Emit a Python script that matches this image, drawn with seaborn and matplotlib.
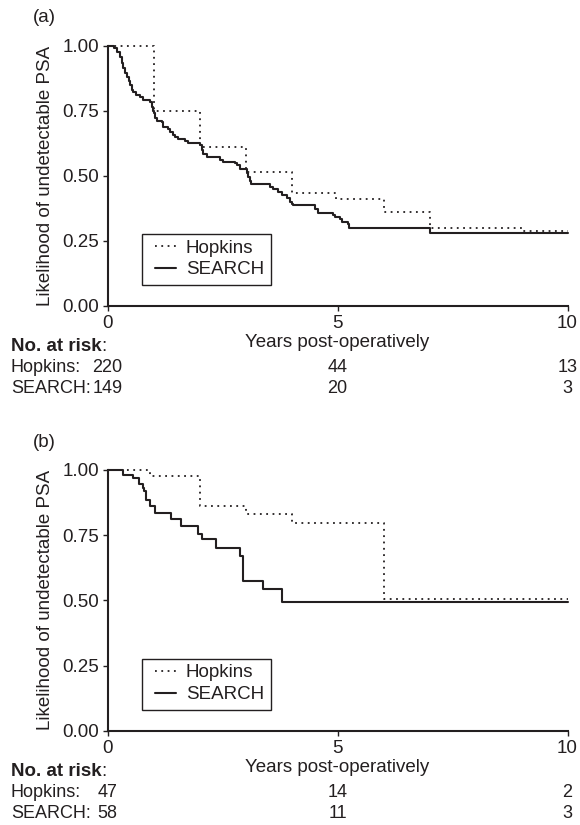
import matplotlib
matplotlib.use("Agg")
import matplotlib.pyplot as plt
import matplotlib.transforms as mtransforms
from matplotlib.patches import Rectangle
import pandas as pd
import seaborn as sns

# ---- Kaplan-Meier step data: event times (years) and survival after each step ----
hopkins_a_t = [0, 1.0, 2.0, 3.0, 4.0, 4.97, 6.0, 7.0, 9.0, 10]
hopkins_a_s = [1.0, 0.75, 0.61, 0.515, 0.435, 0.41, 0.36, 0.30, 0.287, 0.287]

search_a_t = [0, 0.14, 0.20, 0.27, 0.31, 0.34, 0.38, 0.42, 0.46, 0.49, 0.53, 0.56,
              0.63, 0.71, 0.78, 0.92, 0.96, 0.98, 1.0, 1.03, 1.07, 1.18, 1.21,
              1.32, 1.36, 1.42, 1.47, 1.54, 1.68, 1.76, 2.01, 2.05, 2.08, 2.16,
              2.45, 2.52, 2.77, 2.82, 2.88, 3.03, 3.06, 3.10, 3.13, 3.53, 3.60,
              3.71, 3.79, 3.90, 3.96, 4.0, 4.04, 4.51, 4.58, 4.91, 4.95, 5.05,
              5.09, 5.23, 5.26, 7.01, 10]
search_a_s = [1.0, 0.99, 0.975, 0.955, 0.935, 0.915, 0.895, 0.88, 0.865, 0.85, 0.83,
              0.822, 0.81, 0.803, 0.79, 0.782, 0.765, 0.75, 0.74, 0.722, 0.712,
              0.705, 0.688, 0.68, 0.668, 0.658, 0.65, 0.643, 0.635, 0.624, 0.618,
              0.60, 0.585, 0.57, 0.562, 0.553, 0.549, 0.54, 0.525, 0.51, 0.495,
              0.48, 0.467, 0.458, 0.448, 0.438, 0.426, 0.413, 0.40, 0.393, 0.386,
              0.372, 0.356, 0.348, 0.34, 0.334, 0.322, 0.315, 0.30, 0.278, 0.278]

hopkins_b_t = [0, 0.92, 2.0, 3.0, 4.0, 6.0, 10]
hopkins_b_s = [1.0, 0.978, 0.862, 0.833, 0.797, 0.505, 0.505]

search_b_t = [0, 0.33, 0.56, 0.69, 0.77, 0.80, 0.84, 0.92, 1.03, 1.38, 1.60, 1.96,
              2.06, 2.36, 2.87, 2.95, 3.37, 3.79, 10]
search_b_s = [1.0, 0.981, 0.968, 0.945, 0.93, 0.92, 0.885, 0.863, 0.834, 0.811,
              0.785, 0.755, 0.734, 0.70, 0.67, 0.575, 0.542, 0.495, 0.495]

# ---- numbers at risk ----
risk_years = [0, 5, 10]
hopkins_a_risk = [220, 44, 13]
search_a_risk = [149, 20, 3]
hopkins_b_risk = [47, 14, 2]
search_b_risk = [58, 11, 3]

y_ticks = [0.0, 0.25, 0.50, 0.75, 1.00]
x_ticks = [0, 5, 10]

INK = "#231f20"
FS = 13.5
FS_TABLE = 13

sns.set_style("ticks")
plt.rcParams["font.family"] = ["Liberation Sans", "DejaVu Sans"]
plt.rcParams.update({
    "text.color": INK, "axes.labelcolor": INK, "xtick.color": INK,
    "ytick.color": INK, "axes.edgecolor": INK,
})

W, H = 580, 825
fig = plt.figure(figsize=(W / 100, H / 100), dpi=100)


def px_axes(left, top, right, bottom):
    return fig.add_axes([left / W, 1 - bottom / H, (right - left) / W, (bottom - top) / H])


legends = []


def draw_panel(ax, h_t, h_s, s_t, s_s, tag, risk_h, risk_s, axis_bottom_px):
    dh = pd.DataFrame({"t": h_t, "s": h_s})
    ds = pd.DataFrame({"t": s_t, "s": s_s})
    sns.lineplot(data=dh, x="t", y="s", ax=ax, drawstyle="steps-post", estimator=None,
                 color=INK, lw=1.3, linestyle=(0, (1, 2.5)), label="Hopkins", clip_on=False)
    sns.lineplot(data=ds, x="t", y="s", ax=ax, drawstyle="steps-post", estimator=None,
                 color=INK, lw=1.5, label="SEARCH", clip_on=False)
    ax.set_xlim(0, 10)
    ax.set_ylim(0, 1)
    ax.set_xticks(x_ticks)
    ax.set_yticks(y_ticks)
    ax.set_yticklabels([f"{v:.2f}" for v in y_ticks])
    ax.tick_params(direction="out", length=3.6, width=1.0, labelsize=FS, pad=2.5)
    ax.tick_params(axis="x", pad=3.0)
    for sp in ("left", "bottom"):
        ax.spines[sp].set_linewidth(1.5)
    sns.despine(ax=ax)
    ax.set_ylabel("Likelihood of undetectable PSA", fontsize=FS, labelpad=6)
    ax.set_xlabel("Years post-operatively", fontsize=FS, labelpad=1.5)

    # legend contents; its frame is drawn afterwards with asymmetric padding
    leg = ax.legend(loc="upper left", bbox_to_anchor=(0.103, 0.255), borderaxespad=0,
                    borderpad=0, frameon=False, fontsize=FS, handlelength=1.15,
                    handletextpad=0.5, labelspacing=0.25)
    legends.append(leg)

    # panel tag
    fig.text(33 / W, 1 - (axis_bottom_px - 288) / H, tag, fontsize=FS, va="center", ha="left")

    # numbers-at-risk table
    trans = mtransforms.blended_transform_factory(ax.transData, fig.transFigure)
    y_head = 1 - (axis_bottom_px + 40.5) / H
    y_h = 1 - (axis_bottom_px + 61.5) / H
    y_s = 1 - (axis_bottom_px + 82.5) / H
    head = fig.text(11 / W, y_head, "No. at risk", fontsize=FS, fontweight="bold",
                    va="center", ha="left")
    ax.annotate(":", xy=(1, 0.5), xycoords=head, fontsize=FS, va="center", ha="left")
    fig.text(11 / W, y_h, "Hopkins:", fontsize=FS_TABLE, va="center", ha="left")
    fig.text(11 / W, y_s, "SEARCH:", fontsize=FS_TABLE, va="center", ha="left")
    for x, nh, ns in zip(risk_years, risk_h, risk_s):
        ax.text(x, y_h, str(nh), transform=trans, fontsize=FS_TABLE, va="center", ha="center")
        ax.text(x, y_s, str(ns), transform=trans, fontsize=FS_TABLE, va="center", ha="center")


ax_a = px_axes(107.5, 45.7, 567.5, 305.7)
ax_b = px_axes(107.5, 470.0, 567.5, 730.7)

draw_panel(ax_a, hopkins_a_t, hopkins_a_s, search_a_t, search_a_s, "(a)",
           hopkins_a_risk, search_a_risk, 305.7)
draw_panel(ax_b, hopkins_b_t, hopkins_b_s, search_b_t, search_b_s, "(b)",
           hopkins_b_risk, search_b_risk, 730.7)

# legend frames: wider padding left/right than top/bottom
fig.canvas.draw()
renderer = fig.canvas.get_renderer()
for leg in legends:
    bb = leg.get_window_extent(renderer)
    pad_l, pad_r, pad_t, pad_b = 13, 7, 5, 7
    frame = Rectangle((bb.x0 - pad_l, bb.y0 - pad_b),
                      bb.width + pad_l + pad_r, bb.height + pad_t + pad_b,
                      transform=mtransforms.IdentityTransform(),
                      fill=False, edgecolor=INK, linewidth=1.0)
    fig.add_artist(frame)

fig.savefig("out.png", dpi=100)
